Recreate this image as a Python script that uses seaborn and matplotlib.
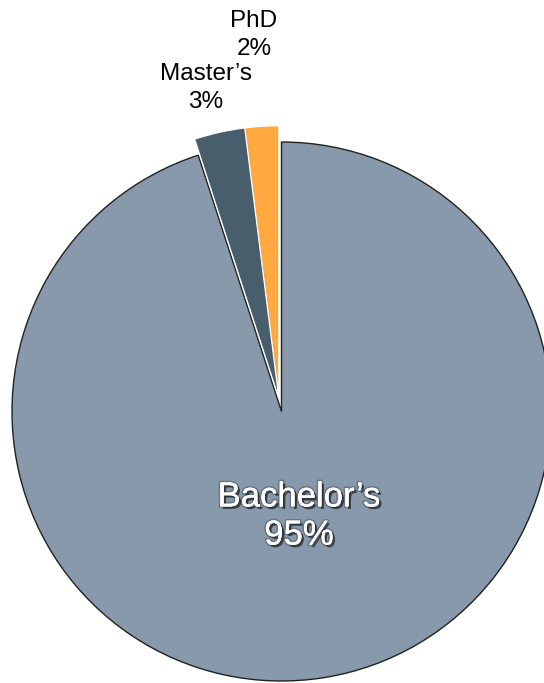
import matplotlib
matplotlib.use("Agg")
import matplotlib.pyplot as plt
import matplotlib.patheffects as pe
import seaborn as sns

# Data
categories = ["PhD", "Master’s", "Bachelor’s"]
shares = [2, 3, 95]
colors = ["#FFA940", "#485E6C", "#8799AA"]

sns.set_theme(style="white")
plt.rcParams['font.family'] = ['Liberation Sans', 'DejaVu Sans']

W, H = 544, 683
fig = plt.figure(figsize=(W / 100, H / 100), dpi=100)
fig.patch.set_facecolor("white")

cx, cy, R = 281.5, 411.5, 269.5
ax = fig.add_axes([(cx - R) / W, (H - cy - R) / H, 2 * R / W, 2 * R / H])
ax.set_xlim(-1, 1)
ax.set_ylim(-1, 1)
ax.set_aspect("equal")
ax.axis("off")

def px2d(px, py):
    return (px - cx) / R, (cy - py) / R

# Big slice (Bachelor's) at the original centre
w1, _ = ax.pie(shares, colors=colors, startangle=90, counterclock=True,
               radius=1.0, center=(0, 0), frame=False)
for i, w in enumerate(w1):
    w.set_clip_on(False)
    if categories[i] == "Bachelor’s":
        w.set_edgecolor("#222222")
        w.set_linewidth(1.0)
    else:
        w.set_visible(False)

# Small slices pulled out together
w2, _ = ax.pie(shares, colors=colors, startangle=90, counterclock=True,
               radius=1.01, center=(-0.01, 0.05), frame=False)
for i, w in enumerate(w2):
    w.set_clip_on(False)
    if categories[i] == "Bachelor’s":
        w.set_visible(False)
    else:
        w.set_edgecolor("white")
        w.set_linewidth(0.8)

ax.set_xlim(-1, 1)
ax.set_ylim(-1, 1)

# Labels
x, y = px2d(299, 516)
ax.text(x, y, f"{categories[2]}\n{shares[2]}%", ha="center", va="center",
        fontsize=25, color="white", linespacing=1.2,
        path_effects=[pe.withSimplePatchShadow(offset=(1.8, -1.8), shadow_rgbFace="black", alpha=0.55),
                      pe.withStroke(linewidth=2.5, foreground=(0, 0, 0, 0.22)),
                      pe.Normal()])

x, y = px2d(206, 88)
ax.text(x, y, f"{categories[1]}\n{shares[1]}%", ha="center", va="center",
        fontsize=17.5, color="black", linespacing=1.3)

x, y = px2d(254, 35)
ax.text(x, y, f"{categories[0]}\n{shares[0]}%", ha="center", va="center",
        fontsize=17.5, color="black", linespacing=1.38)

fig.savefig("out.png", dpi=100, facecolor="white")
